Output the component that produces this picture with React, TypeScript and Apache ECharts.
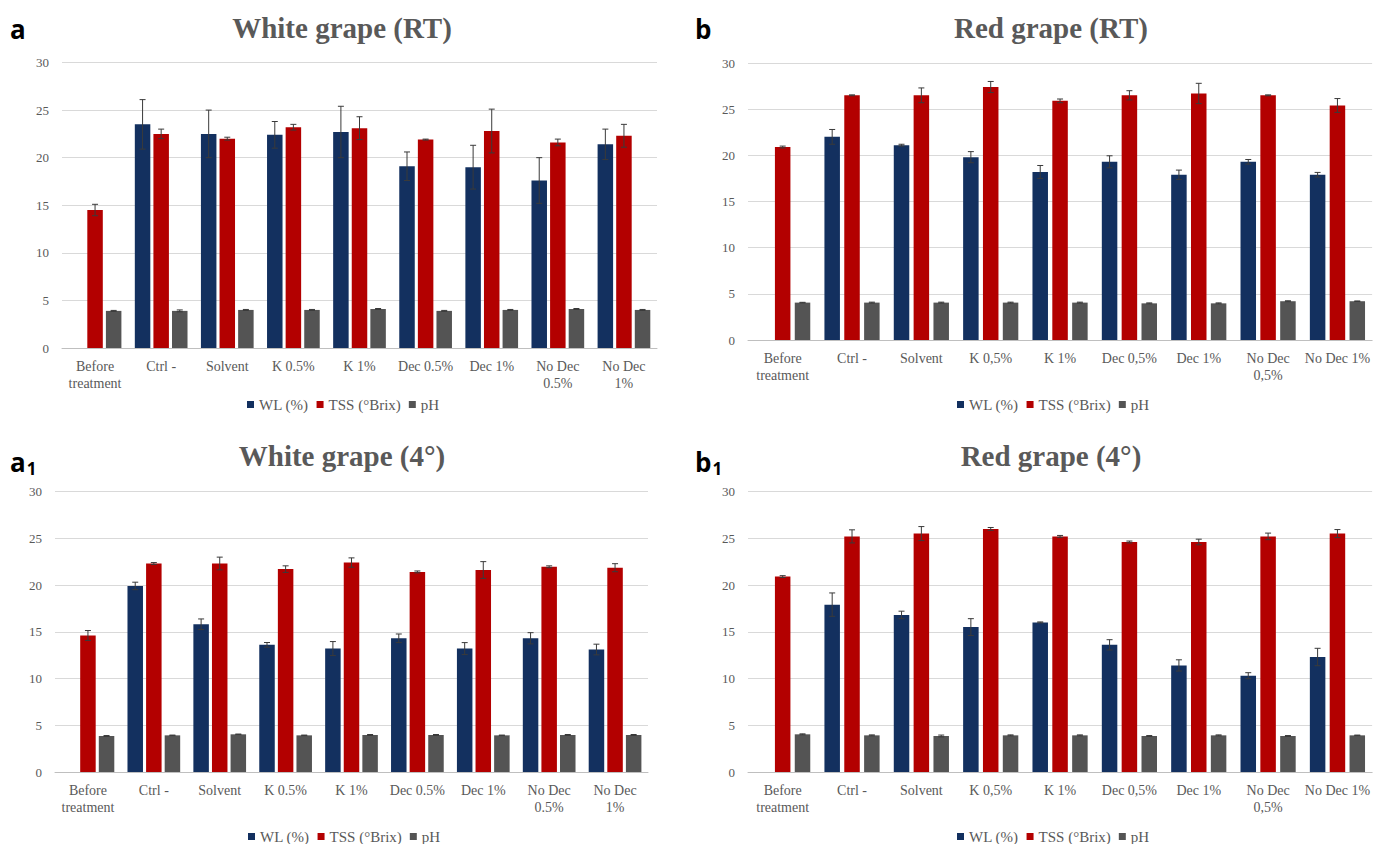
import React, { useEffect, useRef } from "react";
import * as echarts from "echarts";

const categoriesDot = ["Before\ntreatment", "Ctrl -", "Solvent", "K 0.5%", "K 1%", "Dec 0.5%", "Dec 1%", "No Dec\n0.5%", "No Dec\n1%"];
const categoriesComma = ["Before\ntreatment", "Ctrl -", "Solvent", "K 0,5%", "K 1%", "Dec 0,5%", "Dec 1%", "No Dec\n0,5%", "No Dec 1%"];
const seriesNames = ["WL (%)", "TSS (°Brix)", "pH"];
const yTicks = [0, 5, 10, 15, 20, 25, 30];

// a — White grape (RT)
const whiteRT_WL = [null, 23.5, 22.5, 22.4, 22.7, 19.1, 19.0, 17.6, 21.4];
const whiteRT_WL_err = [null, 2.6, 2.5, 1.4, 2.7, 1.5, 2.3, 2.4, 1.6];
const whiteRT_TSS = [14.5, 22.5, 22.0, 23.2, 23.1, 21.9, 22.8, 21.6, 22.3];
const whiteRT_TSS_err = [0.6, 0.5, 0.15, 0.3, 1.2, 0.05, 2.3, 0.35, 1.2];
const whiteRT_pH = [3.9, 3.9, 4.0, 4.0, 4.1, 3.9, 4.0, 4.1, 4.0];
const whiteRT_pH_err = [0.05, 0.1, 0.05, 0.05, 0.05, 0.05, 0.05, 0.05, 0.05];

// b — Red grape (RT)
const redRT_WL = [null, 22.0, 21.1, 19.8, 18.2, 19.3, 17.9, 19.3, 17.9];
const redRT_WL_err = [null, 0.8, 0.1, 0.6, 0.7, 0.65, 0.5, 0.25, 0.25];
const redRT_TSS = [20.9, 26.5, 26.5, 27.4, 25.9, 26.5, 26.7, 26.5, 25.4];
const redRT_TSS_err = [0.1, 0.05, 0.8, 0.6, 0.2, 0.5, 1.1, 0.05, 0.75];
const redRT_pH = [4.05, 4.05, 4.05, 4.05, 4.05, 3.97, 3.97, 4.2, 4.2];
const redRT_pH_err = [0.03, 0.05, 0.05, 0.05, 0.05, 0.05, 0.05, 0.05, 0.03];

// a1 — White grape (4°)
const white4_WL = [null, 19.9, 15.8, 13.6, 13.2, 14.3, 13.2, 14.3, 13.1];
const white4_WL_err = [null, 0.4, 0.57, 0.25, 0.75, 0.46, 0.64, 0.6, 0.57];
const white4_TSS = [14.6, 22.3, 22.3, 21.7, 22.4, 21.4, 21.6, 21.95, 21.85];
const white4_TSS_err = [0.53, 0.1, 0.68, 0.35, 0.5, 0.1, 0.9, 0.1, 0.43];
const white4_pH = [3.85, 3.92, 4.03, 3.92, 3.96, 3.96, 3.92, 3.96, 3.96];
const white4_pH_err = [0.05, 0.03, 0.03, 0.03, 0.05, 0.05, 0.03, 0.05, 0.05];

// b1 — Red grape (4°)
const red4_WL = [null, 17.9, 16.8, 15.5, 16.0, 13.6, 11.4, 10.3, 12.3];
const red4_WL_err = [null, 1.25, 0.4, 0.9, 0.05, 0.55, 0.6, 0.32, 0.93];
const red4_TSS = [20.9, 25.2, 25.5, 26.0, 25.2, 24.6, 24.6, 25.2, 25.5];
const red4_TSS_err = [0.1, 0.7, 0.75, 0.15, 0.1, 0.1, 0.3, 0.35, 0.43];
const red4_pH = [4.03, 3.92, 3.85, 3.92, 3.92, 3.85, 3.92, 3.85, 3.92];
const red4_pH_err = [0.05, 0.05, 0.1, 0.05, 0.05, 0.05, 0.05, 0.05, 0.03];

const COLORS = ["#13305f", "#b30000", "#545454"];
const TEXT = "#595959";
const SERIF = "Liberation Serif";

const panels = [
  { title: "White grape (RT)", label: "a", sub: "", cats: categoriesDot,
    vals: [whiteRT_WL, whiteRT_TSS, whiteRT_pH], errs: [whiteRT_WL_err, whiteRT_TSS_err, whiteRT_pH_err],
    grid: { left: 62, top: 62.5, width: 595, height: 285.5 }, barW: 15.5, gap: 0.2,
    titleX: 342, titleY: 13, labelX: 10, labelY: 16, legendX: 247, legendY: 397 },
  { title: "Red grape (RT)", label: "b", sub: "", cats: categoriesComma,
    vals: [redRT_WL, redRT_TSS, redRT_pH], errs: [redRT_WL_err, redRT_TSS_err, redRT_pH_err],
    grid: { left: 748, top: 63, width: 626, height: 277 }, barW: 15.5, gap: 0.28,
    titleX: 1051, titleY: 13, labelX: 695, labelY: 16, legendX: 957, legendY: 397 },
  { title: "White grape (4°)", label: "a", sub: "1", cats: categoriesDot,
    vals: [white4_WL, white4_TSS, white4_pH], errs: [white4_WL_err, white4_TSS_err, white4_pH_err],
    grid: { left: 55, top: 491.5, width: 593, height: 280.5 }, barW: 15.5, gap: 0.2,
    titleX: 342, titleY: 441, labelX: 10, labelY: 446, legendX: 248, legendY: 829 },
  { title: "Red grape (4°)", label: "b", sub: "1", cats: categoriesComma,
    vals: [red4_WL, red4_TSS, red4_pH], errs: [red4_WL_err, red4_TSS_err, red4_pH_err],
    grid: { left: 748, top: 491.5, width: 626, height: 280.5 }, barW: 15.5, gap: 0.28,
    titleX: 1051, titleY: 441, labelX: 695, labelY: 446, legendX: 957, legendY: 829 },
];

function buildOption() {
  const grid: any[] = [];
  const xAxis: any[] = [];
  const yAxis: any[] = [];
  const series: any[] = [];
  const title: any[] = [];
  const legend: any[] = [];
  const graphic: any[] = [];

  const legendRich = { t: { fontFamily: SERIF, fontSize: 15, color: TEXT } };

  panels.forEach((p, gi) => {
    grid.push({ ...p.grid, containLabel: false });
    xAxis.push({
      type: "category", gridIndex: gi, data: p.cats,
      axisLine: { lineStyle: { color: "#bfbfbf", width: 1 } },
      axisTick: { show: false },
      axisLabel: { interval: 0, color: TEXT, fontFamily: SERIF, fontSize: 14, lineHeight: 17, margin: 10 },
    });
    yAxis.push({
      type: "value", gridIndex: gi, min: yTicks[0], max: yTicks[yTicks.length - 1], interval: 5,
      axisLine: { show: false }, axisTick: { show: false },
      splitLine: { lineStyle: { color: "#d9d9d9", width: 1 } },
      axisLabel: { color: TEXT, fontFamily: SERIF, fontSize: 13, margin: 13 },
    });
    title.push({
      text: p.title, left: p.titleX, top: p.titleY, textAlign: "center", padding: 0,
      textStyle: { fontFamily: SERIF, fontWeight: "bold", fontSize: 29, color: TEXT },
    });
    legend.push({
      data: seriesNames,
      left: p.legendX, top: p.legendY, padding: 0,
      itemWidth: 7, itemHeight: 7, itemGap: 8, icon: "rect",
      formatter: "{t|{name}}",
      textStyle: { fontFamily: SERIF, fontSize: 15, color: TEXT, rich: legendRich },
    });
    graphic.push({
      type: "text", left: p.labelX, top: p.labelY,
      style: {
        text: p.sub ? `{m|${p.label}}{s|${p.sub}}` : `{m|${p.label}}`,
        rich: {
          m: { fontFamily: "Open Sans", fontWeight: "bold", fontSize: 26, fill: "#000", lineHeight: 30 },
          s: { fontFamily: "Open Sans", fontWeight: "bold", fontSize: 17, fill: "#000", padding: [14, 0, 0, 1], lineHeight: 30 },
        },
      },
    });

    const step = p.barW * (1 + p.gap);
    p.vals.forEach((arr, si) => {
      series.push({
        type: "bar", name: seriesNames[si], xAxisIndex: gi, yAxisIndex: gi,
        data: arr.map((v) => (v === null ? "-" : v)),
        barWidth: p.barW, barGap: `${p.gap * 100}%`,
        itemStyle: { color: COLORS[si] },
        emphasis: { disabled: true },
      });
    });
    p.vals.forEach((arr, si) => {
      const errData: any[] = [];
      arr.forEach((v, ci) => {
        const e = p.errs[si][ci];
        if (v !== null && e !== null) errData.push([ci, v, e]);
      });
      const offset = (si - 1) * step;
      series.push({
        type: "custom", name: `err-${gi}-${si}`, xAxisIndex: gi, yAxisIndex: gi,
        data: errData, z: 5, silent: true,
        encode: { x: 0, y: 1 },
        renderItem: (params: any, api: any) => {
          const ci = api.value(0);
          const v = api.value(1);
          const e = api.value(2);
          const top = api.coord([ci, v + e]);
          const bot = api.coord([ci, v - e]);
          const x = top[0] + offset;
          const cap = 3;
          const st = { stroke: "#3a3a3a", lineWidth: 1 };
          return {
            type: "group",
            children: [
              { type: "line", shape: { x1: x, y1: top[1], x2: x, y2: bot[1] }, style: st },
              { type: "line", shape: { x1: x - cap, y1: top[1], x2: x + cap, y2: top[1] }, style: st },
              { type: "line", shape: { x1: x - cap, y1: bot[1], x2: x + cap, y2: bot[1] }, style: st },
            ],
          };
        },
      });
    });
  });

  return {
    animation: false,
    backgroundColor: "#ffffff",
    textStyle: { fontFamily: SERIF },
    title, legend, grid, xAxis, yAxis, series, graphic,
  };
}

export default function App() {
  const ref = useRef<HTMLDivElement>(null);
  useEffect(() => {
    if (!ref.current) return;
    const chart = echarts.init(ref.current, null, { renderer: "svg" });
    chart.setOption(buildOption() as any);
    return () => chart.dispose();
  }, []);
  return (
    <div
      ref={ref}
      style={{ position: "fixed", left: 0, top: 0, width: 1373, height: 844, background: "#fff" }}
    />
  );
}
